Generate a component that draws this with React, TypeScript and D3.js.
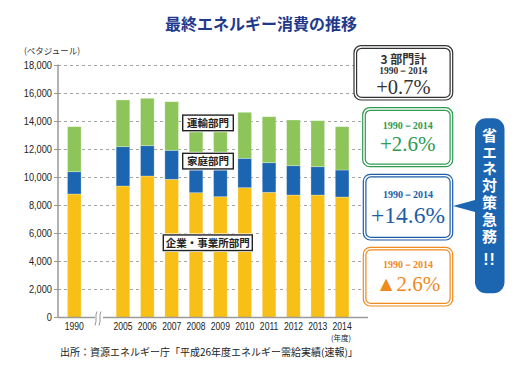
import React from "react";
import * as d3 from "d3";

const years = ["1990", "2005", "2006", "2007", "2008", "2009", "2010", "2011", "2012", "2013", "2014"];
const slots = ["1990", "gap", "2005", "2006", "2007", "2008", "2009", "2010", "2011", "2012", "2013", "2014"];
const industry = [8821, 9393, 10107, 9871, 8914, 8629, 9271, 8943, 8750, 8750, 8607];
const household = [1593, 2807, 2164, 2072, 2265, 2142, 2100, 2114, 2093, 2021, 1929];
const transport = [3215, 3336, 3386, 3471, 3214, 3408, 3286, 3286, 3264, 3286, 3093];
const yTicks = [0, 2000, 4000, 6000, 8000, 10000, 12000, 14000, 16000, 18000];
const seriesKeys = ["industry", "household", "transport"];
const seriesColors = ["#F8BF17", "#1B65B1", "#8DC55A"];
const sectorLabels = ["企業・事業所部門", "家庭部門", "運輸部門"];
const summaryBoxes = [
  { head: "3 部門計", period: "1990－2014", value: "+0.7%", color: "#333333" },
  { head: "", period: "1990－2014", value: "+2.6%", color: "#2E9A52" },
  { head: "", period: "1990－2014", value: "+14.6%", color: "#1D5DA8" },
  { head: "", period: "1990－2014", value: "▲2.6%", color: "#F08A1E" },
];
const calloutText = "省エネ対策急務";
const calloutMark = "!!";

const JP = "'Noto Sans CJK JP', sans-serif";
const SANS = "'Liberation Sans', Arial, sans-serif";
const SERIF = "'Liberation Serif', 'DejaVu Serif', serif";

export default function App() {
  const W = 522, H = 380;
  const x = d3.scaleBand<string>().domain(slots).range([62.1, 354.3]).paddingInner(0.44).paddingOuter(0.22);
  const y = d3.scaleLinear().domain([0, 18000]).range([317.5, 65.5]);
  const rows = years.map((yr, i) => ({ year: yr, industry: industry[i], household: household[i], transport: transport[i] }));
  const stacked = d3.stack<any>().keys(seriesKeys)(rows);
  const axisX = 58;
  const right = 368;

  const lblBoxes = [
    { text: sectorLabels[2], x: 182.7, yv: 13900, w: 50.6 },
    { text: sectorLabels[1], x: 182.7, yv: 11170, w: 50.6 },
    { text: sectorLabels[0], x: 163.3, yv: 5340, w: 89 },
  ];

  const boxGeom = [
    { x: 354, y: 45.7, w: 98.7, h: 54.3 },
    { x: 362.7, y: 107.7, w: 90, h: 59 },
    { x: 363.3, y: 174.3, w: 89.4, h: 65.7 },
    { x: 363.3, y: 247.3, w: 89.4, h: 58.7 },
  ];

  return (
    <svg width={W} height={H} style={{ display: "block", position: "absolute", left: 0, top: 0, background: "#fff" }}>
      <rect width={W} height={H} fill="#fff" />
      <text x={261} y={29.5} textAnchor="middle" fontFamily={JP} fontWeight={700} fontSize={16} fill="#1F3A8C">
        最終エネルギー消費の推移
      </text>
      <text x={24} y={54} fontFamily={JP} fontSize={8.5} fill="#333">(ペタジュール)</text>

      {yTicks.filter((t) => t > 0).map((t) => (
        <line key={t} x1={axisX} x2={right} y1={y(t)} y2={y(t)} stroke="#9a9a9a" strokeWidth={0.9} strokeDasharray="3,3" />
      ))}
      {yTicks.map((t) => (
        <g key={"t" + t}>
          <line x1={axisX - 4} x2={axisX} y1={y(t)} y2={y(t)} stroke="#999" strokeWidth={1} />
          <text transform={`translate(52,${y(t) + 3.6}) scale(0.88,1)`} textAnchor="end" fontFamily={SANS} fontSize={10.5} fill="#222">
            {d3.format(",")(t)}
          </text>
        </g>
      ))}

      {stacked.map((s, si) => (
        <g key={s.key} fill={seriesColors[si]}>
          {s.map((d: any, i: number) => (
            <rect key={i} x={x(years[i])} y={y(d[1])} width={x.bandwidth()} height={y(d[0]) - y(d[1])}
              stroke="#fff" strokeOpacity={0.35} strokeWidth={0.8} />
          ))}
        </g>
      ))}

      <line x1={axisX} x2={axisX} y1={y(18000) - 1} y2={y(0)} stroke="#9a9a9a" strokeWidth={1.5} />
      <line x1={axisX} x2={95} y1={y(0)} y2={y(0)} stroke="#9a9a9a" strokeWidth={1.5} />
      <line x1={103} x2={right} y1={y(0)} y2={y(0)} stroke="#9a9a9a" strokeWidth={1.5} />
      {[96, 100].map((bx) => (
        <path key={bx} d={`M${bx + 1},${y(0) - 6} C${bx - 1.5},${y(0) - 2} ${bx + 1.5},${y(0) + 2} ${bx - 1},${y(0) + 8}`}
          fill="none" stroke="#888" strokeWidth={0.9} />
      ))}
      {years.map((yr) => (
        <text key={yr} transform={`translate(${(x(yr) as number) + x.bandwidth() / 2},330) scale(0.78,1)`} textAnchor="middle" fontFamily={SANS} fontSize={11} fill="#222">
          {yr}
        </text>
      ))}
      <text x={341} y={341} textAnchor="middle" fontFamily={JP} fontSize={7.5} fill="#222">(年度)</text>

      {lblBoxes.map((b) => {
        const cy = y(b.yv);
        return (
          <g key={b.text}>
            <rect x={b.x - 1.5} y={cy - 9.3} width={b.w + 3} height={18.6} fill="#fff" />
            <rect x={b.x} y={cy - 7.8} width={b.w} height={15.6} fill="#fff" stroke="#222" strokeWidth={1.4} />
            <text x={b.x + b.w / 2} y={cy + 4} textAnchor="middle" fontFamily={JP} fontWeight={700} fontSize={10.5} fill="#222">
              {b.text}
            </text>
          </g>
        );
      })}

      {summaryBoxes.map((b, i) => {
        const g = boxGeom[i];
        const cx = g.x + g.w / 2;
        return (
          <g key={i}>
            <rect x={g.x} y={g.y} width={g.w} height={g.h} rx={7} fill="#fff" stroke={b.color} strokeWidth={1.2} />
            <rect x={g.x + 2.6} y={g.y + 2.6} width={g.w - 5.2} height={g.h - 5.2} rx={5} fill="none" stroke={b.color} strokeWidth={1.2} />
            {b.head ? (
              <>
                <text x={cx} y={g.y + 18.5} textAnchor="middle" fill={b.color} fontFamily={JP} fontWeight={700} fontSize={12}>{b.head}</text>
                <text x={cx} y={g.y + 28} textAnchor="middle" fill={b.color} fontFamily={SERIF} fontWeight={700} fontSize={9.5}>{b.period}</text>
                <text x={cx} y={g.y + 48.5} textAnchor="middle" fill={b.color} fontFamily={SERIF} fontSize={20.5}>{b.value}</text>
              </>
            ) : (
              <>
                <text x={cx} y={g.y + g.h * 0.36} textAnchor="middle" fill={b.color} fontFamily={SERIF} fontWeight={700} fontSize={10}>{b.period}</text>
                <text x={cx} y={g.y + g.h * 0.36 + (i === 2 ? 25 : 22.5)} textAnchor="middle" fill={b.color} fontFamily={SERIF} fontSize={i === 2 ? 23.5 : 21}>{b.value}</text>
              </>
            )}
          </g>
        );
      })}

      <path d="M475,200 L453,206 L475,212 Z" fill="#1B65B1" />
      <rect x={475} y={118.3} width={29.5} height={175} rx={11} fill="#1B65B1" />
      <text x={489.5} y={127.5} fontFamily={JP} fontWeight={700} fontSize={15} fill="#fff"
        style={{ writingMode: "vertical-rl", letterSpacing: "1.9px" } as any}>
        {calloutText}
      </text>
      <text x={489.5} y={265} textAnchor="middle" fontFamily={SANS} fontWeight={700} fontSize={16} letterSpacing={1} fill="#fff">
        {calloutMark}
      </text>

      <text x={60} y={356} fontFamily={JP} fontSize={10} fill="#222">
        出所：資源エネルギー庁「平成26年度エネルギー需給実績(速報)」
      </text>
    </svg>
  );
}
